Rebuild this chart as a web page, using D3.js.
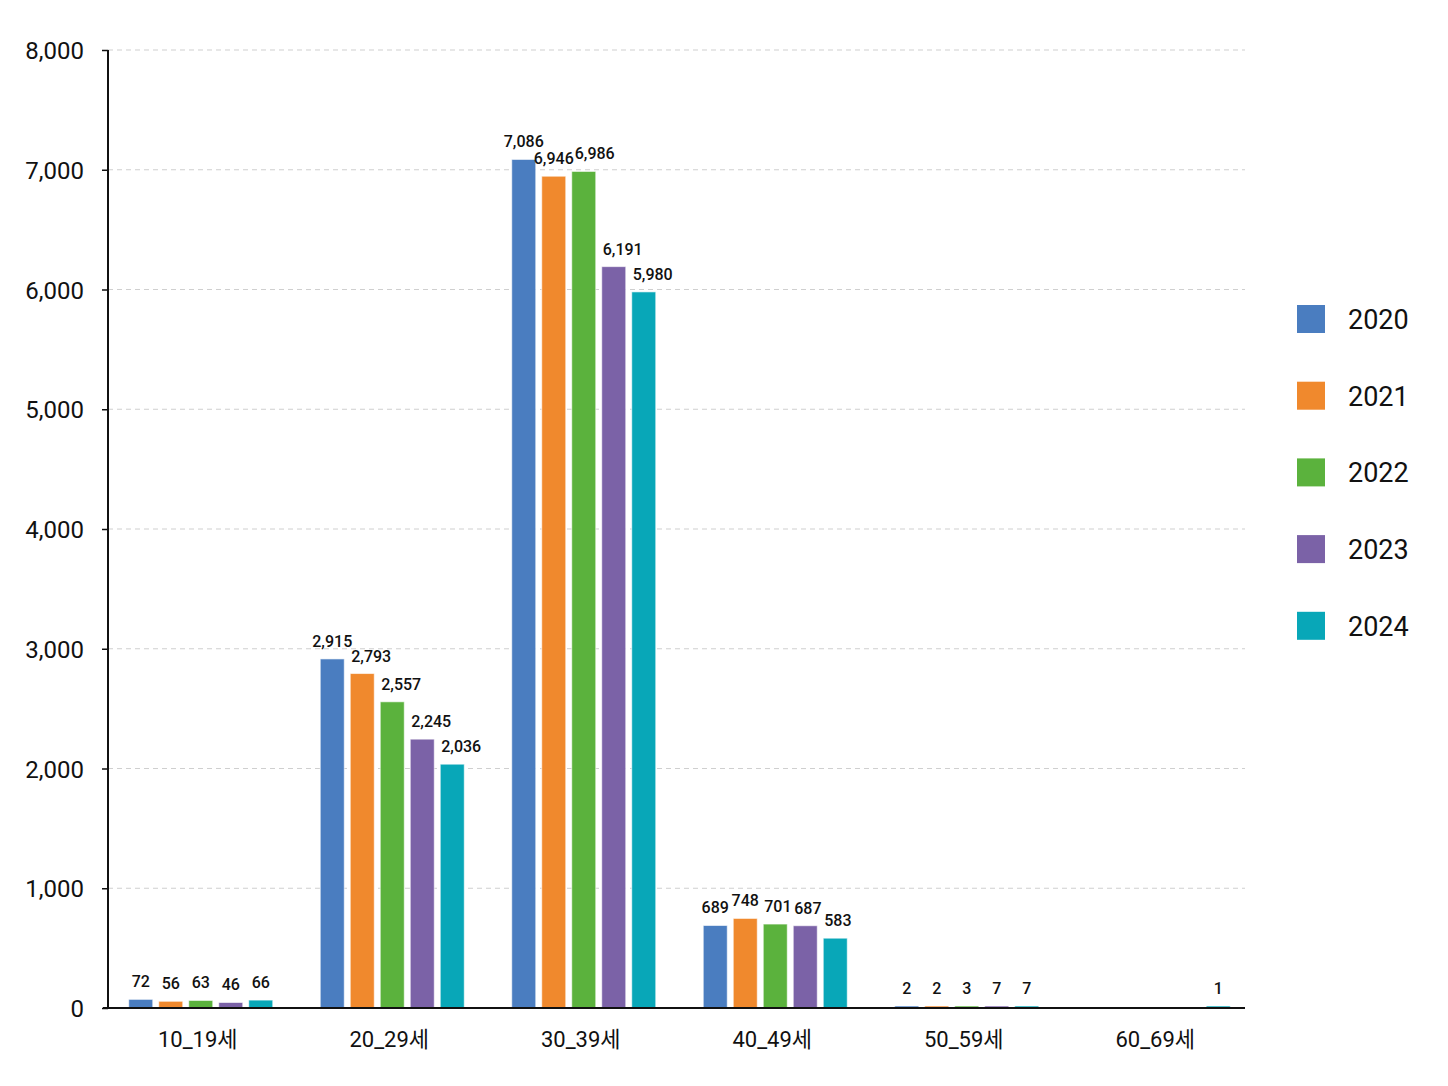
<!DOCTYPE html>
<head>
  <meta charset="utf-8">
  <script src="https://cdnjs.cloudflare.com/ajax/libs/d3/7.8.5/d3.min.js"></script>
</head>

<style>
body {
  margin: 0;
  background-color: #ffffff;
}
svg text {
  font-family: Roboto, "Noto Sans CJK KR", sans-serif;
  fill: #111;
}
</style>

<body>
  <svg id='chart' width='1448' height='1086'></svg>
</body>

<script>

var ages = ['10_19세', '20_29세', '30_39세', '40_49세', '50_59세', '60_69세'];
var years = ['2020', '2021', '2022', '2023', '2024'];
var colours = ['#4a7dc0', '#f0892d', '#5bb23d', '#7b62a7', '#08a7b8'];

// one array per year, in the order of ages
var v2020 = [72, 2915, 7086, 689, 2, 0];
var v2021 = [56, 2793, 6946, 748, 2, 0];
var v2022 = [63, 2557, 6986, 701, 3, 0];
var v2023 = [46, 2245, 6191, 687, 7, 0];
var v2024 = [66, 2036, 5980, 583, 7, 1];
var series = [v2020, v2021, v2022, v2023, v2024];

var yTicks = [0, 1000, 2000, 3000, 4000, 5000, 6000, 7000, 8000];

var svg = d3.select('#chart');

var x0 = d3.scaleBand().domain(ages).range([105, 1254]);
var x1 = d3.scaleBand().domain(years).range([-72, 72]).paddingInner(0.2);
var y = d3.scaleLinear().domain([0, 8000]).range([1008, 50]);
var fmt = d3.format(',');

// dashed grid
svg.append('g')
  .selectAll('line')
  .data(yTicks.slice(1))
  .join('line')
    .attr('x1', 108).attr('x2', 1245)
    .attr('y1', function(d){ return y(d) }).attr('y2', function(d){ return y(d) })
    .attr('stroke', '#cfcfcf')
    .attr('stroke-width', 1.2)
    .attr('stroke-dasharray', '5,4');

// y axis
var yAxis = svg.append('g')
  .attr('transform', 'translate(108,0)')
  .call(d3.axisLeft(y).tickValues(yTicks).tickFormat(fmt).tickSize(6).tickPadding(18));
yAxis.select('.domain').attr('stroke', '#111').attr('stroke-width', 2).attr('d', 'M0,50V1008');
yAxis.selectAll('.tick line').attr('stroke', '#111').attr('stroke-width', 1.5);
yAxis.selectAll('.tick text')
  .style('font-size', '24px')
  .attr('fill', '#111')
  .attr('dy', '0.36em');

// bars
var rows = [];
series.forEach(function(vals, j){
  vals.forEach(function(v, i){
    var prev = j > 0 ? series[j - 1][i] : 0;
    var next = j < series.length - 1 ? series[j + 1][i] : 0;
    rows.push({age: ages[i], year: years[j], value: v, c: colours[j],
               // label slides right when the bar to its left is taller
               shift: prev > v && next < v && v > 100});
  });
});
var shown = rows.filter(function(d){ return d.value > 0 });

function barTop(d) {
  return Math.min(y(d.value), y(0) - 2);
}
function barX(d) {
  return x0(d.age) + x0.bandwidth() / 2 + x1(d.year);
}

svg.append('g')
  .selectAll('rect')
  .data(shown)
  .join('rect')
    .attr('x', barX)
    .attr('width', x1.bandwidth())
    .attr('y', barTop)
    .attr('height', function(d){ return y(0) - barTop(d) })
    .attr('fill', function(d){ return d.c })
    .attr('stroke', '#ffffff')
    .attr('stroke-opacity', 0.6)
    .attr('stroke-width', 1);

// value labels
var labels = svg.append('g')
  .selectAll('text')
  .data(shown)
  .join('text')
    .attr('x', function(d){ return d.shift ? barX(d) + 1 : barX(d) + x1.bandwidth() / 2 })
    .attr('y', function(d){ return barTop(d) - 12 })
    .attr('text-anchor', function(d){ return d.shift ? 'start' : 'middle' })
    .style('font-size', '16px')
    .style('font-weight', '500')
    .text(function(d){ return fmt(d.value) });

// push a label right when it runs into the one before it (glyph box, not line box)
var last = {};
labels.each(function(d){
  var b = this.getBBox();
  var p = last[d.age];
  var top = b.y + 4, bot = b.y + b.height - 4;
  if (p && b.x < p.x + p.width + 1 && top < p.bot && p.top < bot) {
    d3.select(this).attr('text-anchor', 'start').attr('x', p.x + p.width + 1);
    b = this.getBBox();
  }
  last[d.age] = {x: b.x, width: b.width, top: b.y + 4, bot: b.y + b.height - 4};
});

// x baseline and labels
svg.append('line')
  .attr('x1', 103).attr('x2', 1245)
  .attr('y1', y(0)).attr('y2', y(0))
  .attr('stroke', '#111').attr('stroke-width', 2);

svg.append('g')
  .selectAll('text')
  .data(ages)
  .join('text')
    .attr('x', function(d){ return x0(d) + x0.bandwidth() / 2 - 3 })
    .attr('y', 1047)
    .attr('text-anchor', 'middle')
    .style('font-size', '22px')
    .text(function(d){ return d });

// legend
var legend = svg.append('g')
  .selectAll('g')
  .data(years)
  .join('g')
    .attr('transform', function(d, i){ return 'translate(1297,' + (305 + i * 76.7) + ')' });

legend.append('rect')
  .attr('width', 28).attr('height', 28)
  .attr('fill', function(d, i){ return colours[i] });

legend.append('text')
  .attr('x', 51).attr('y', 24)
  .style('font-size', '27px')
  .text(function(d){ return d });

</script>
